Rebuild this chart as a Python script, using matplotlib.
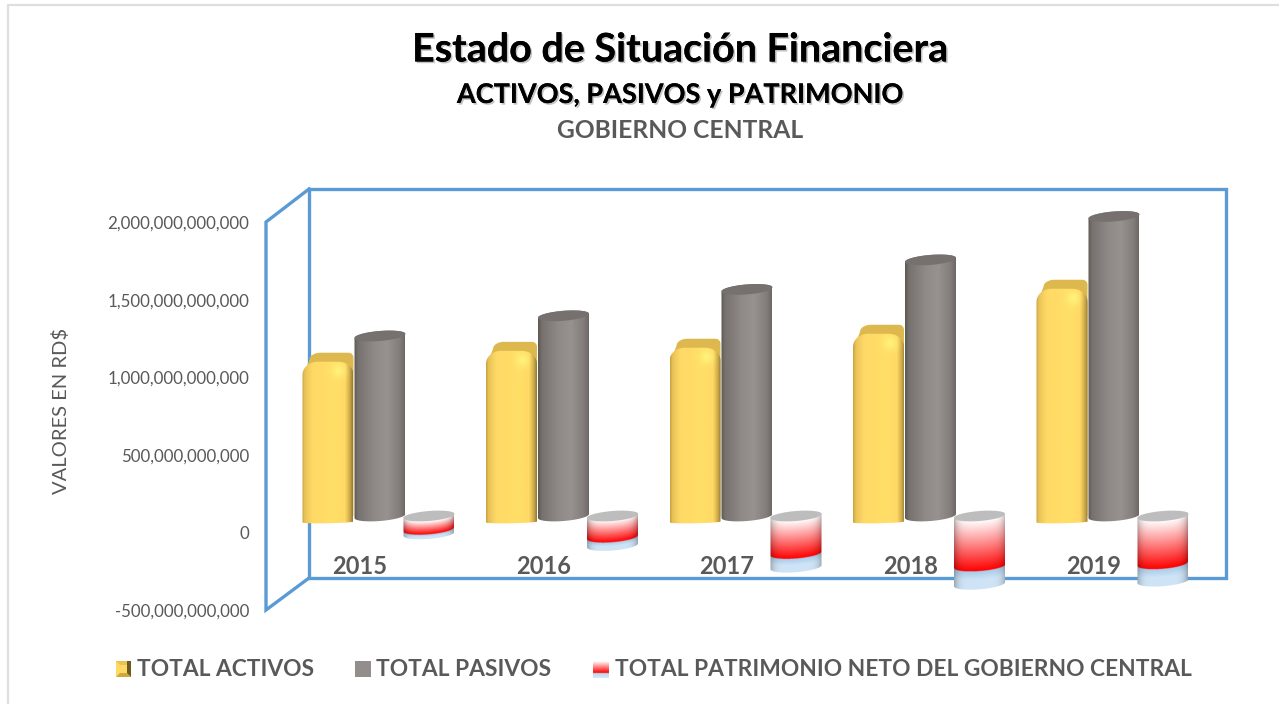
import numpy as np
import matplotlib as mpl
mpl.use('Agg')
import matplotlib.pyplot as plt
import matplotlib.patheffects as pe
from matplotlib.colors import to_rgb
from matplotlib.patches import PathPatch, Polygon, Rectangle
from matplotlib.path import Path
from matplotlib.ticker import FuncFormatter

years = ['2015', '2016', '2017', '2018', '2019']
activos = [1.02e12, 1.09e12, 1.11e12, 1.20e12, 1.49e12]
pasivos = [1.16e12, 1.29e12, 1.46e12, 1.65e12, 1.93e12]
patrimonio = [-0.115e12, -0.19e12, -0.33e12, -0.44e12, -0.42e12]
value_ticks = [-5e11, 0, 5e11, 1e12, 1.5e12, 2e12]
legend_labels = ['TOTAL ACTIVOS', 'TOTAL PASIVOS', 'TOTAL PATRIMONIO NETO DEL GOBIERNO CENTRAL']

W, H = 1279, 704
BLUE = '#5B9BD5'
GREY = '#595959'
FONT = 'Lato'

# pixel scale of the bars
STEP = 183.5
X0 = 380.0
Y0 = 516.0
PX_V = 5e11 / 77.6
PX_X = 1 / STEP
A = 25.5 * PX_X
B = 5.0 * PX_V
TILT = 2.0 * PX_V   # rise of the ellipse at its right end


def hex_stops(pos, cols, n=120):
    u = np.linspace(0, 1, n)
    c = np.array([to_rgb(k) for k in cols])
    return np.stack([np.interp(u, pos, c[:, i]) for i in range(3)], axis=1)


def arc(xc, yc, t0, t1, n=40):
    t = np.linspace(t0, t1, n)
    return np.column_stack([xc + A * np.cos(t), yc + B * np.sin(t) + TILT * np.cos(t)])


def cyl_path(xc, top, bottom):
    v = np.vstack([arc(xc, top, np.pi, 0), arc(xc, bottom, 0, -np.pi)])
    return Path(np.vstack([v, v[0]]), closed=True)


def put_image(ax, img, xc, vmin, vmax, path, z):
    im = ax.imshow(img, extent=(xc - A, xc + A, vmin, vmax), origin='lower',
                   aspect='auto', interpolation='bilinear', zorder=z)
    im.set_clip_path(PathPatch(path, transform=ax.transData))


def corner(cx, cy, rx, ry, t0, t1, n=12):
    t = np.linspace(t0, t1, n)
    return np.column_stack([cx + rx * np.cos(t), cy + ry * np.sin(t)])


fig = plt.figure(figsize=(W / 100, H / 100), dpi=100, facecolor='white')

# pixel layer: frame, texts, legend
px = fig.add_axes([0, 0, 1, 1], zorder=1)
px.set_xlim(0, W)
px.set_ylim(H, 0)
px.axis('off')

px.plot([309, 1226, 1226, 309, 309], [189, 189, 578, 578, 189], color=BLUE, lw=2.4, solid_joinstyle='miter')
px.plot([309, 266, 266, 309], [189, 222, 610, 578], color=BLUE, lw=2.4, solid_joinstyle='miter')
px.plot([8, 8, W], [H, 5, 5], color='#DEDEDE', lw=1.6)

shadow = [pe.withSimplePatchShadow(offset=(1.2, -1.2), alpha=0.35, shadow_rgbFace='#555555'), pe.Normal()]
px.text(680, 50, 'Estado de Situación Financiera', ha='center', va='center', fontsize=28.4,
        family=FONT, weight='bold', color='black', path_effects=shadow)
px.text(680, 95, 'ACTIVOS, PASIVOS y PATRIMONIO', ha='center', va='center', fontsize=19.5,
        family=FONT, weight='bold', color='black', path_effects=shadow)
px.text(680, 131, 'GOBIERNO CENTRAL', ha='center', va='center', fontsize=17.7,
        family=FONT, weight='bold', color=GREY)
px.text(61, 411, 'VALORES EN RD$', ha='center', va='center', rotation=90, fontsize=14.5,
        family=FONT, color=GREY)

# legend
for x, lab in zip([137, 376, 615], legend_labels):
    px.text(x, 669, lab, ha='left', va='center', fontsize=16.35, family=FONT, weight='bold', color=GREY)
px.add_patch(Rectangle((116, 661), 15, 16, facecolor='#FFD966', edgecolor='none', zorder=2))
px.add_patch(Polygon([[116, 661], [131, 661], [127, 665], [120, 665]], facecolor='#E9C452', edgecolor='none', zorder=3))
px.add_patch(Polygon([[116, 677], [131, 677], [127, 673], [120, 673]], facecolor='#CFA93C', edgecolor='none', zorder=3))
px.add_patch(Polygon([[127, 661], [131, 661], [131, 677], [127, 673]], facecolor='#6B5A22', edgecolor='none', zorder=3))
px.add_patch(Rectangle((355, 661), 16, 16, facecolor='#938E8C', edgecolor='none'))
leg_red = hex_stops([0, 0.7, 0.72, 1], ['#FFFFFF', '#FF0000', '#BDD7EE', '#D6E8F7'], 40).reshape(40, 1, 3)
px.imshow(leg_red, extent=(593, 609, 678, 661), origin='upper', aspect='auto', interpolation='bilinear')
px.set_xlim(0, W)
px.set_ylim(H, 0)

# value axis, its zero sits lower than the foot of the bars
ay = fig.add_axes([255 / W, 0, 1 / W, 1], zorder=2)
ay.set_ylim((532.5 - H) * PX_V, 532.5 * PX_V)
ay.set_xticks([])
ay.set_yticks(value_ticks)
ay.yaxis.set_major_formatter(FuncFormatter(lambda v, p: f'{v:,.0f}'))
ay.tick_params(axis='y', length=0, pad=4, labelsize=12.2, labelcolor=GREY)
for lab in ay.get_yticklabels():
    lab.set_family(FONT)
for s in ay.spines.values():
    s.set_visible(False)
ay.patch.set_alpha(0)

# bars
ax = fig.add_axes([0, 0, 1, 1], zorder=3)
ax.axis('off')
ax.patch.set_alpha(0)

yellow_h = hex_stops([0, 0.05, 0.2, 0.65, 0.85, 0.95, 1],
                     ['#C9A240', '#E8C257', '#FFD966', '#FFDF66', '#FFD966', '#C9A545', '#8F7A38'])
grey_h = hex_stops([0, 0.08, 0.4, 0.65, 0.9, 1],
                   ['#5E5A50', '#777270', '#8F8A88', '#979290', '#827D7B', '#6D6866'])

for i in range(len(years)):
    # activos: bevelled column, a darker rounded shape behind the front face
    xc = i - 52 * PX_X
    top = activos[i]
    front = top - 4 * PX_V
    back = top + 5 * PX_V
    rx, ry = 15 * PX_X, 13 * PX_V
    back_l = corner(xc - A + 18 * PX_X, back - 7 * PX_V, 11 * PX_X, 7 * PX_V, np.pi, np.pi / 2)
    back_r = corner(xc + A - 5 * PX_X, back - 5 * PX_V, 5 * PX_X, 5 * PX_V, np.pi / 2, 0)
    back_v = np.vstack([[xc - A + 4 * PX_X, front - 6 * PX_V], back_l, back_r, [xc + A, 0], [xc - A + 4 * PX_X, 0]])
    ax.add_patch(Polygon(back_v, facecolor='#DDB84E', edgecolor='none', zorder=2))
    left = corner(xc - A + rx, front - ry, rx, ry, np.pi, np.pi / 2)
    right = corner(xc + A - rx, front - ry, rx, ry, np.pi / 2, 0)
    foot = arc(xc, 0, 0, -np.pi, 30)
    foot[:, 1] = foot[:, 1] * 0.25 - 6 * PX_V
    v = np.vstack([left, right, foot, left[:1]])
    h = 90
    img = np.repeat(yellow_h[None, :, :], h, axis=0)
    uu, vv = np.meshgrid(np.linspace(0, 1, 120), np.linspace(-8 * PX_V, front, h))
    glow = np.exp(-((uu - 0.72) / 0.13) ** 2 - ((vv - (front - 9 * PX_V)) / (7 * PX_V)) ** 2)
    img = img + glow[:, :, None] * (np.array(to_rgb('#FFF27A')) - img)
    put_image(ax, img, xc, -8 * PX_V, front, Path(v, closed=True), 3)

    # pasivos: cylinder
    xc = i
    p = cyl_path(xc, pasivos[i], 0)
    img = np.repeat(grey_h[None, :, :], 2, axis=0)
    put_image(ax, img, xc, -3 * B, pasivos[i] + 3 * B, p, 4)
    ax.add_patch(Polygon(arc(xc, pasivos[i], 0, 2 * np.pi, 60), facecolor='#76716E', edgecolor='none', zorder=5))

    # patrimonio: gradient cylinder, light blue foot for the negative end
    xc = i + 49 * PX_X
    low = patrimonio[i]
    vmin, vmax = low - 3 * B, 3 * B
    p = cyl_path(xc, 0, low)
    uu, vv = np.meshgrid(np.linspace(-1, 1, 120), np.linspace(vmin, vmax, 400))
    curve = -B * np.sqrt(1 - uu ** 2) + TILT * uu
    frac = np.clip((curve - vv) / (-low), 0, 1)
    stop = 0.74
    red, white = np.array(to_rgb('#FF0000')), np.array([1.0, 1.0, 1.0])
    blue0, blue1 = np.array(to_rgb('#A9CBE8')), np.array(to_rgb('#CFE5F7'))
    upper = (frac / stop)[:, :, None]
    lower = ((frac - stop) / (1 - stop))[:, :, None]
    img = np.where(frac[:, :, None] < stop, white + upper * (red - white), blue0 + np.clip(lower * 2, 0, 1) * (blue1 - blue0))
    edge = 1 - 0.28 * np.abs(uu[:, :, None]) ** 6
    put_image(ax, img * edge, xc, vmin, vmax, p, 6)
    ax.add_patch(Polygon(arc(xc, 0, 0, 2 * np.pi, 60), facecolor='#BDBDBD', edgecolor='none', zorder=7))

    # year label
    ax.text(i - 20 * PX_X, -50 * PX_V, years[i], ha='center', va='center', fontsize=17,
            family=FONT, weight='bold', color=GREY, zorder=8)

ax.set_xlim(-X0 * PX_X, (W - X0) * PX_X)
ax.set_ylim((Y0 - H) * PX_V, Y0 * PX_V)

plt.savefig('out.png', dpi=100, facecolor='white')
